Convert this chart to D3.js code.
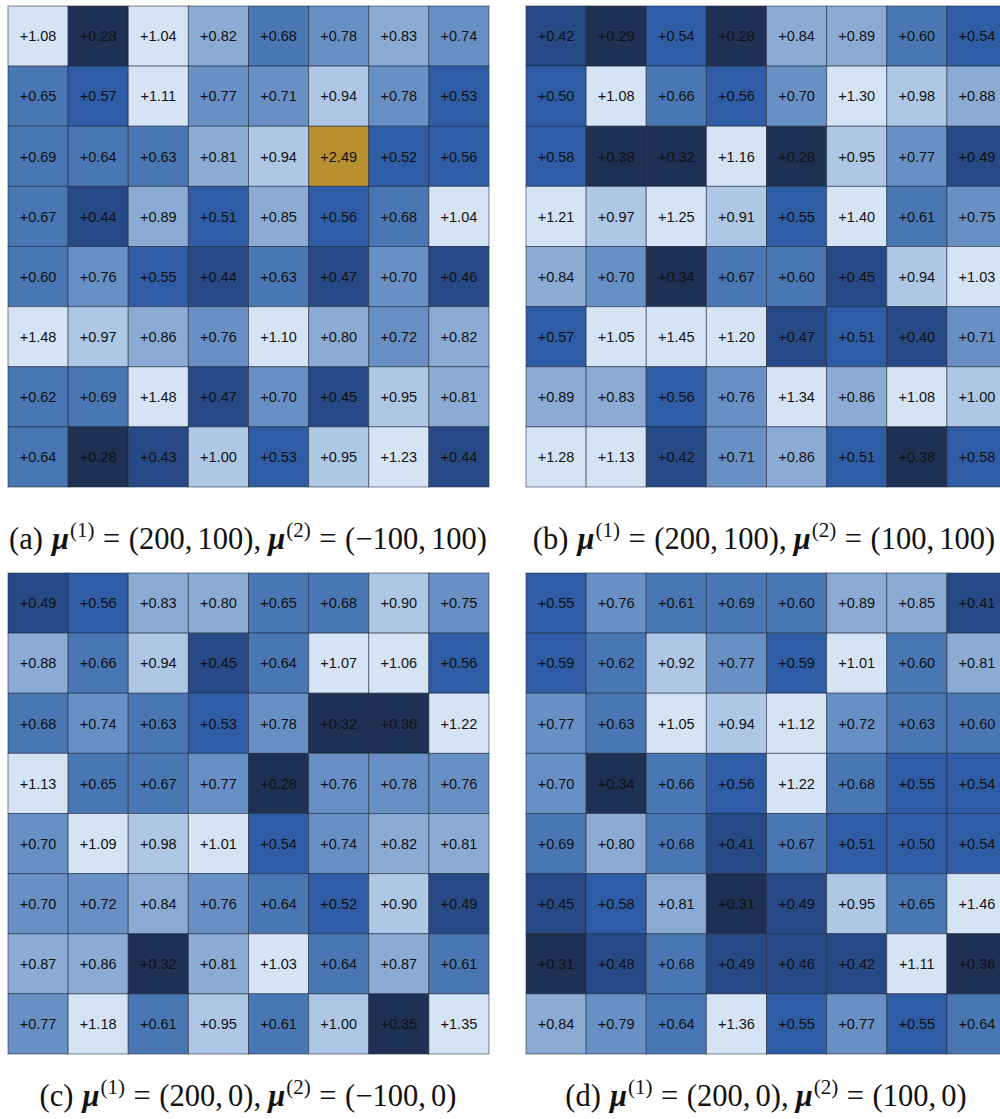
<!DOCTYPE html>
<html>
<head>
<meta charset="utf-8">
<script src="https://cdn.jsdelivr.net/npm/d3@7"></script>
<style>
  html, body { margin: 0; padding: 0; background: #fff; }
  svg { display: block; }
</style>
</head>
<body>
<svg id="chart"></svg>
<script>
// values per panel, row by row (8x8)
const panelA = [
    [1.08, 0.28, 1.04, 0.82, 0.68, 0.78, 0.83, 0.74],
    [0.65, 0.57, 1.11, 0.77, 0.71, 0.94, 0.78, 0.53],
    [0.69, 0.64, 0.63, 0.81, 0.94, 2.49, 0.52, 0.56],
    [0.67, 0.44, 0.89, 0.51, 0.85, 0.56, 0.68, 1.04],
    [0.60, 0.76, 0.55, 0.44, 0.63, 0.47, 0.70, 0.46],
    [1.48, 0.97, 0.86, 0.76, 1.10, 0.80, 0.72, 0.82],
    [0.62, 0.69, 1.48, 0.47, 0.70, 0.45, 0.95, 0.81],
    [0.64, 0.28, 0.43, 1.00, 0.53, 0.95, 1.23, 0.44],
];
const panelB = [
    [0.42, 0.29, 0.54, 0.28, 0.84, 0.89, 0.60, 0.54],
    [0.50, 1.08, 0.66, 0.56, 0.70, 1.30, 0.98, 0.88],
    [0.58, 0.38, 0.32, 1.16, 0.28, 0.95, 0.77, 0.49],
    [1.21, 0.97, 1.25, 0.91, 0.55, 1.40, 0.61, 0.75],
    [0.84, 0.70, 0.34, 0.67, 0.60, 0.45, 0.94, 1.03],
    [0.57, 1.05, 1.45, 1.20, 0.47, 0.51, 0.40, 0.71],
    [0.89, 0.83, 0.56, 0.76, 1.34, 0.86, 1.08, 1.00],
    [1.28, 1.13, 0.42, 0.71, 0.86, 0.51, 0.38, 0.58],
];
const panelC = [
    [0.49, 0.56, 0.83, 0.80, 0.65, 0.68, 0.90, 0.75],
    [0.88, 0.66, 0.94, 0.45, 0.64, 1.07, 1.06, 0.56],
    [0.68, 0.74, 0.63, 0.53, 0.78, 0.32, 0.36, 1.22],
    [1.13, 0.65, 0.67, 0.77, 0.28, 0.76, 0.78, 0.76],
    [0.70, 1.09, 0.98, 1.01, 0.54, 0.74, 0.82, 0.81],
    [0.70, 0.72, 0.84, 0.76, 0.64, 0.52, 0.90, 0.49],
    [0.87, 0.86, 0.32, 0.81, 1.03, 0.64, 0.87, 0.61],
    [0.77, 1.18, 0.61, 0.95, 0.61, 1.00, 0.35, 1.35],
];
const panelD = [
    [0.55, 0.76, 0.61, 0.69, 0.60, 0.89, 0.85, 0.41],
    [0.59, 0.62, 0.92, 0.77, 0.59, 1.01, 0.60, 0.81],
    [0.77, 0.63, 1.05, 0.94, 1.12, 0.72, 0.63, 0.60],
    [0.70, 0.34, 0.66, 0.56, 1.22, 0.68, 0.55, 0.54],
    [0.69, 0.80, 0.68, 0.41, 0.67, 0.51, 0.50, 0.54],
    [0.45, 0.58, 0.81, 0.31, 0.49, 0.95, 0.65, 1.46],
    [0.31, 0.48, 0.68, 0.49, 0.46, 0.42, 1.11, 0.36],
    [0.84, 0.79, 0.64, 1.36, 0.55, 0.77, 0.55, 0.64],
];

const panelLabels = ['(a)', '(b)', '(c)', '(d)'];
const mu1Values   = [['200', '100'], ['200', '100'], ['200', '0'], ['200', '0']];
const mu2Values   = [['\u2212100', '100'], ['100', '100'], ['\u2212100', '0'], ['100', '0']];

// binned blues, gold for outliers
const bins   = [0.4, 0.5, 0.6, 0.7, 0.8, 0.9, 1.005, 2.0];
const shades = ['#1e3053', '#274a86', '#2e5da5', '#4977b4', '#6890c5',
                '#8babd4', '#adc7e5', '#d5e4f5', '#b8902f'];
const color  = d3.scaleThreshold().domain(bins).range(shades);

const W = 1000, H = 1119;
const svg = d3.select('#chart').attr('width', W).attr('height', H);

const layout = [
    { data: panelA, x: 8,   y: 6,   capX: 248, capY: 549 },
    { data: panelB, x: 526, y: 6,   capX: 764, capY: 549 },
    { data: panelC, x: 8,   y: 573, capX: 248, capY: 1106 },
    { data: panelD, x: 526, y: 573, capX: 766, capY: 1106 },
];
const size = 481;
const FS = 30.5;   // caption font size

layout.forEach((p, k) => {
    const xs = d3.scaleBand().domain(d3.range(8)).range([p.x, p.x + size]);
    const ys = d3.scaleBand().domain(d3.range(8)).range([p.y, p.y + size]);
    const cells = p.data.flatMap((row, r) => row.map((v, c) => ({ r, c, v })));

    const g = svg.append('g');
    g.selectAll('rect')
        .data(cells)
        .join('rect')
        .attr('x', d => xs(d.c))
        .attr('y', d => ys(d.r))
        .attr('width', xs.bandwidth())
        .attr('height', ys.bandwidth())
        .attr('fill', d => color(d.v))
        .attr('stroke', 'rgba(25,35,55,0.55)')
        .attr('stroke-width', 1);

    g.selectAll('text')
        .data(cells)
        .join('text')
        .attr('x', d => xs(d.c) + xs.bandwidth() / 2)
        .attr('y', d => ys(d.r) + ys.bandwidth() / 2)
        .attr('dy', '0.36em')
        .attr('text-anchor', 'middle')
        .attr('font-family', 'Liberation Sans, Arial, sans-serif')
        .attr('font-size', 14.5)
        .attr('fill', '#111')
        .text(d => '+' + d.v.toFixed(2));

    // caption, TeX-like spacing done with dx
    const cap = svg.append('text')
        .attr('x', p.capX)
        .attr('y', p.capY)
        .attr('text-anchor', 'middle')
        .attr('font-family', 'Liberation Serif, Times New Roman, serif')
        .attr('font-size', FS)
        .attr('fill', '#111');
    const thick = FS * 0.28, thin = FS * 0.17, quad = FS * 0.3;
    const tuple = v => '(' + v[0] + ',';
    const parts = [
        { t: panelLabels[k] },
        { t: '\u03bc', mu: true, dx: quad },
        { t: '(1)', sup: true, dx: 1 },
        { t: '=', dx: thick },
        { t: tuple(mu1Values[k]), dx: thick },
        { t: mu1Values[k][1] + '),', dx: thin },
        { t: '\u03bc', mu: true, dx: thin + 2 },
        { t: '(2)', sup: true, dx: 1 },
        { t: '=', dx: thick },
        { t: tuple(mu2Values[k]), dx: thick },
        { t: mu2Values[k][1] + ')', dx: thin },
    ];
    let raised = false;
    parts.forEach(s => {
        const ts = cap.append('tspan').text(s.t);
        if (s.dx) ts.attr('dx', s.dx);
        if (s.mu) ts.attr('font-weight', 'bold').attr('font-style', 'italic');
        if (s.sup) {
            ts.attr('font-size', 21).attr('dy', -12.5);
            raised = true;
        } else if (raised) {
            ts.attr('dy', 12.5);
            raised = false;
        }
    });
});
</script>
</body>
</html>
